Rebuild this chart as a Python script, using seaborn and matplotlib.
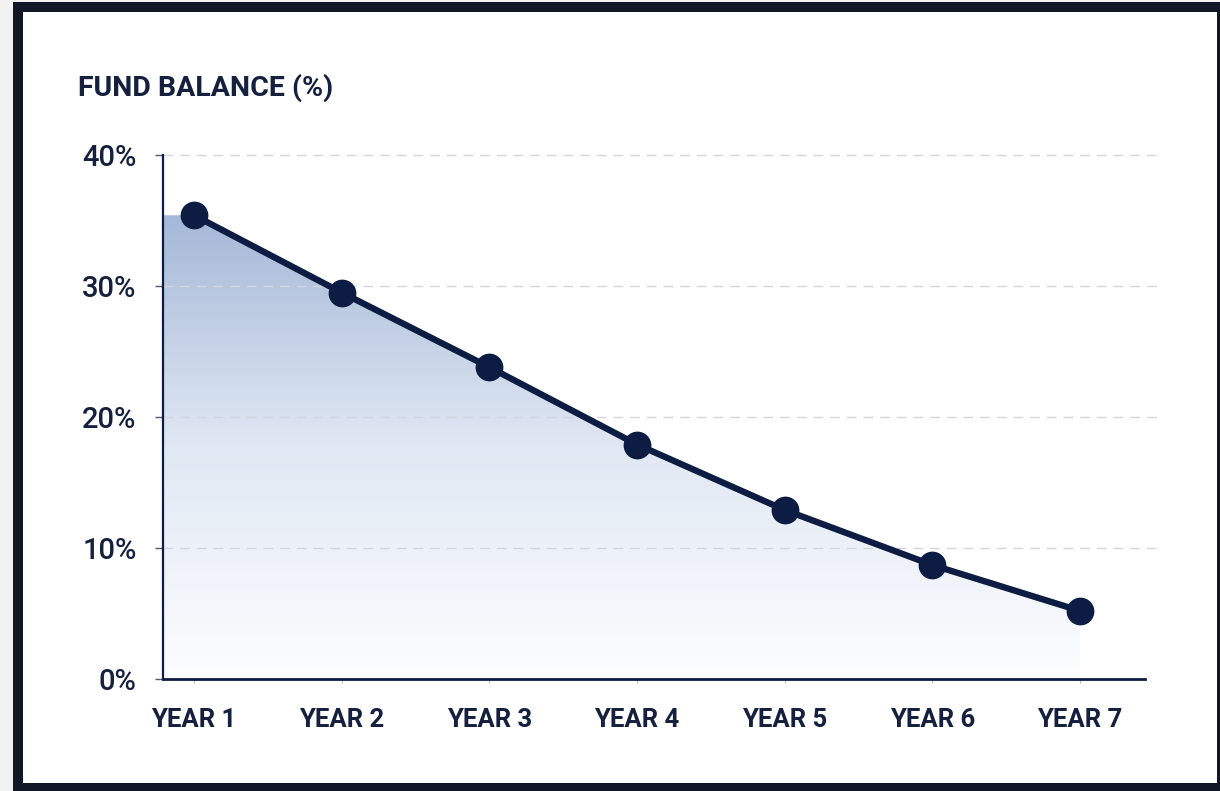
import numpy as np
import pandas as pd
import matplotlib
matplotlib.use("Agg")
import matplotlib.pyplot as plt
from matplotlib.patches import Rectangle
from matplotlib.colors import LinearSegmentedColormap
import seaborn as sns

# ---- data ----
years = ["YEAR 1", "YEAR 2", "YEAR 3", "YEAR 4", "YEAR 5", "YEAR 6", "YEAR 7"]
balance = [35.4, 29.5, 23.8, 17.9, 12.9, 8.7, 5.2]
y_ticks = [0, 10, 20, 30, 40]
y_tick_labels = ["0%", "10%", "20%", "30%", "40%"]
title = "FUND BALANCE (%)"

NAVY = "#0c1c42"
TEXT = "#15203f"

sns.set_style("white")
plt.rcParams["font.family"] = ["Roboto", "DejaVu Sans"]

W, H = 1220, 791
fig = plt.figure(figsize=(W / 100, H / 100), dpi=100)
fig.patch.set_facecolor("#f2f2f2")

# frame
fig.patches.append(Rectangle((18 / W, 3 / H), (1222 - 18) / W, (784 - 3) / H,
                             transform=fig.transFigure, facecolor="white",
                             edgecolor="#111726", linewidth=7.2, zorder=-5))

ax = fig.add_axes([163 / W, 1 - 679 / H, 1000 / W, (679 - 155) / H])
ax.set_facecolor("none")
ax.set_zorder(1)

df = pd.DataFrame({"x": np.arange(len(years)), "balance": balance, "year": years})

x_left = -31 / 147.7
x_right = 6 + 83 / 147.7

# gradient fill under line (flat to the left of the first point)
fx = np.concatenate([[x_left], df["x"].values])
fy = np.concatenate([[balance[0]], balance])
poly = ax.fill_between(fx, 0, fy, facecolor="none", edgecolor="none")
cmap = LinearSegmentedColormap.from_list("fund", ["#fdfdff", "#e0e8f3", "#a5b8d8"])
grad = np.linspace(0, 1, 256).reshape(-1, 1)
im = ax.imshow(grad, extent=[x_left, df["x"].values[-1], 0, balance[0]],
               origin="lower", aspect="auto", cmap=cmap, zorder=1)
im.set_clip_path(poly.get_paths()[0], transform=ax.transData)

# grid
ax.hlines(y_ticks[1:], x_left, x_right, colors="#d3d6dc", linestyles=(0, (7, 5)),
          linewidth=1.0, zorder=2, clip_on=False)

sns.lineplot(data=df, x="x", y="balance", ax=ax, color=NAVY, linewidth=4.6,
             marker="o", markersize=20, markeredgewidth=0, zorder=5)
ax.set_xlabel("")
ax.set_ylabel("")
ax.set_xlim(x_left, x_right)
ax.set_ylim(0, 40)

ax.set_xticks(df["x"].values)
ax.set_xticklabels(years, fontsize=18.5, fontweight="bold", color=TEXT)
ax.set_yticks(y_ticks)
ax.set_yticklabels(y_tick_labels, fontsize=21, fontweight="medium", color=TEXT)
ax.tick_params(axis="y", length=6, width=1.0, color="#555a66", pad=13, left=True)
ax.tick_params(axis="x", length=3, width=0.8, color="#b8bcc6", pad=18, bottom=True)

for s in ["top", "right"]:
    ax.spines[s].set_visible(False)
ax.spines["left"].set_color(NAVY)
ax.spines["left"].set_linewidth(1.6)
ax.spines["bottom"].set_color(NAVY)
ax.spines["bottom"].set_linewidth(2.0)
ax.spines["bottom"].set_bounds(x_left, 6 + (1145 - 1080) / 147.7)

fig.text(78 / W, 1 - 74 / H, title, fontsize=20.5, fontweight="bold", color=TEXT,
         ha="left", va="top")

fig.savefig("out.png", dpi=100, facecolor=fig.get_facecolor())
